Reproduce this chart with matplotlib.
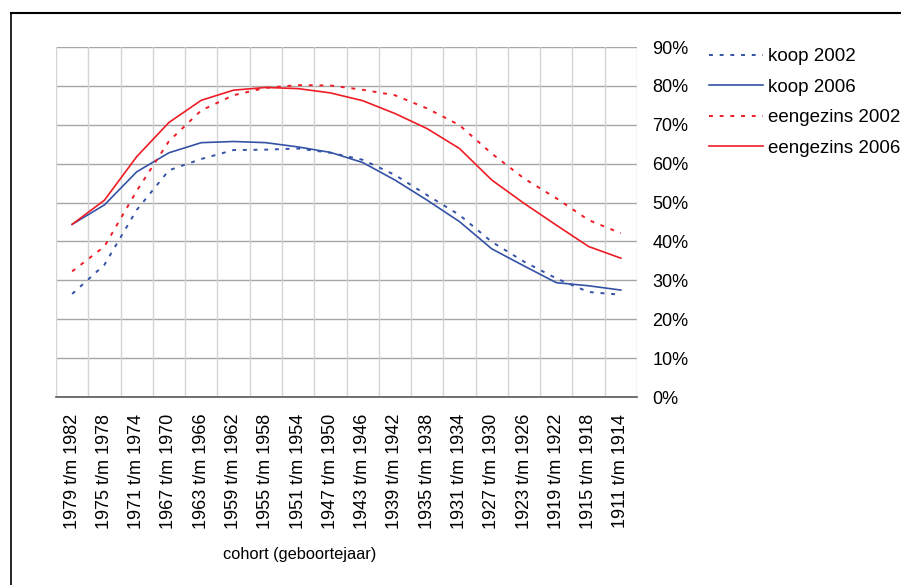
import matplotlib.pyplot as plt
from matplotlib.lines import Line2D
from matplotlib.ticker import PercentFormatter

plt.rcParams['font.family'] = ['Liberation Sans', 'DejaVu Sans']

# cohorten (geboortejaar)
cohorts = ['1979 t/m 1982', '1975 t/m 1978', '1971 t/m 1974', '1967 t/m 1970',
           '1963 t/m 1966', '1959 t/m 1962', '1955 t/m 1958', '1951 t/m 1954',
           '1947 t/m 1950', '1943 t/m 1946', '1939 t/m 1942', '1935 t/m 1938',
           '1931 t/m 1934', '1927 t/m 1930', '1923 t/m 1926', '1919 t/m 1922',
           '1915 t/m 1918', '1911 t/m 1914']

# aandelen in procenten
koop_2002 = [26.5, 34.0, 48.1, 58.3, 61.2, 63.5, 63.6, 63.9, 62.8, 61.0,
             57.1, 51.9, 46.8, 39.9, 34.8, 30.5, 27.0, 26.3]
koop_2006 = [44.4, 49.4, 57.9, 62.8, 65.4, 65.7, 65.4, 64.3, 62.9, 60.3,
             55.8, 50.6, 45.1, 38.1, 33.7, 29.4, 28.6, 27.5]
eengezins_2002 = [32.3, 38.7, 53.0, 65.8, 73.7, 77.6, 79.5, 80.2, 80.1, 79.0,
                  77.6, 74.2, 69.9, 62.6, 56.2, 51.1, 45.5, 42.1]
eengezins_2006 = [44.4, 50.6, 61.8, 70.6, 76.3, 78.9, 79.6, 79.3, 78.2, 76.2,
                  72.9, 69.0, 63.9, 55.8, 49.8, 44.2, 38.7, 35.7]

blauw = '#3452A6'
rood = '#EE1C25'
stip = (0, (2, 3.5))

fig = plt.figure(figsize=(9.01, 5.85), dpi=100)
ax = fig.add_axes([56 / 901, 1 - 397 / 585, 581 / 901, 350 / 585])

x = range(len(cohorts))
ax.plot(x, koop_2002, color=blauw, lw=1.4, linestyle=stip, label='koop 2002')
ax.plot(x, koop_2006, color=blauw, lw=1.2, label='koop 2006')
ax.plot(x, eengezins_2002, color=rood, lw=1.4, linestyle=stip, label='eengezins 2002')
ax.plot(x, eengezins_2006, color=rood, lw=1.2, label='eengezins 2006')

ax.set_xlim(-0.5, len(cohorts) - 0.5)
ax.set_ylim(0, 90)
ax.set_yticks(range(0, 91, 10))
ax.yaxis.set_major_formatter(PercentFormatter(decimals=0))
ax.yaxis.tick_right()
ax.tick_params(axis='y', length=0, pad=11, labelsize=13)

ax.set_xticks(list(x))
ax.set_xticklabels(cohorts, rotation=90, fontsize=13)
ax.tick_params(axis='x', length=0, pad=12)

# rasterlijnen
for v in range(10, 91, 10):
    ax.axhline(v, color='#a6a6a6', lw=1.0, zorder=0)
for i in range(len(cohorts) + 1):
    ax.axvline(i - 0.5, color='#d4d4d4', lw=1.0, zorder=0)

for s in ['top', 'left', 'right']:
    ax.spines[s].set_visible(False)
ax.spines['bottom'].set_color('#555555')
ax.spines['bottom'].set_linewidth(1.2)

fig.text(300 / 901, 1 - 555 / 585, 'cohort (geboortejaar)', fontsize=11.8,
         ha='center', va='center')

ax.legend(loc='upper left', bbox_to_anchor=(709 / 901, 1 - 48 / 585),
          bbox_transform=fig.transFigure, frameon=False, fontsize=13.5,
          handlelength=2.9, handletextpad=0.25, labelspacing=0.72,
          borderaxespad=0, borderpad=0)

# kader
fig.add_artist(Line2D([11 / 901, 1], [1 - 13 / 585, 1 - 13 / 585], color='black', lw=1.5))
fig.add_artist(Line2D([11 / 901, 11 / 901], [0, 1 - 13 / 585], color='black', lw=1.2))

fig.savefig('out.png', dpi=100)
